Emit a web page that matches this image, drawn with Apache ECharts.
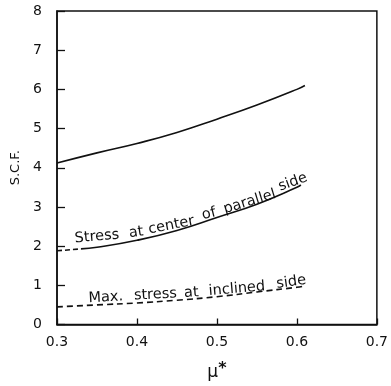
<!DOCTYPE html>
<html>
<head>
<meta charset="utf-8">
<script src="https://cdn.jsdelivr.net/npm/echarts@6/dist/echarts.min.js"></script>
<style>
  html, body { margin: 0; padding: 0; background: #fff; }
  #chart { width: 391px; height: 386px; }
</style>
</head>
<body>
<div id="chart"></div>
<script>
// tick labels
const xTicks = [0.3, 0.4, 0.5, 0.6, 0.7]
const yTicks = [0, 1, 2, 3, 4, 5, 6, 7, 8]

// upper solid curve (no label)
const muTop = [0.3, 0.35, 0.4, 0.45, 0.5, 0.55, 0.6, 0.61]
const scfTop = [4.12, 4.38, 4.62, 4.9, 5.24, 5.6, 6.0, 6.1]

// stress at center of parallel side
const muMid = [0.3, 0.33, 0.35, 0.4, 0.45, 0.5, 0.55, 0.6, 0.605]
const scfMid = [1.88, 1.93, 1.97, 2.15, 2.4, 2.73, 3.07, 3.5, 3.56]

// max. stress at inclined side
const muLow = [0.3, 0.35, 0.4, 0.45, 0.5, 0.55, 0.6, 0.61]
const scfLow = [0.45, 0.5, 0.55, 0.62, 0.71, 0.83, 0.95, 0.98]

const zip = (xs, ys) => xs.map((x, i) => [x, ys[i]])

// hand lettering along the curves: word, mu, scf, rotation (deg)
const words = [
  ['Stress', 0.35, 2.24, 5],
  ['at', 0.399, 2.35, 8],
  ['center', 0.443, 2.53, 11],
  ['of', 0.49, 2.82, 14],
  ['parallel', 0.541, 3.13, 17],
  ['side', 0.595, 3.63, 20],
  ['Max.', 0.361, 0.69, 3],
  ['stress', 0.423, 0.76, 3],
  ['at', 0.468, 0.81, 4],
  ['inclined', 0.525, 0.91, 5],
  ['side', 0.593, 1.08, 8]
]

const ink = '#111'
const font = 'DejaVu Sans'
const lineStyle = (type) => ({ color: ink, width: 1.6, type: type })

let chart = echarts.init(document.getElementById('chart'))
chart.setOption({
  animation: false,
  grid: {
    left: 57,
    right: 12,
    top: 11,
    bottom: 53,
    show: true,
    borderColor: ink,
    borderWidth: 1.5
  },
  xAxis: {
    type: 'value',
    min: xTicks[0],
    max: xTicks[xTicks.length - 1],
    interval: 0.1,
    name: '{m|μ}{s|*}',
    nameLocation: 'middle',
    nameGap: 36,
    nameTextStyle: {
      rich: {
        m: { fontFamily: font, fontSize: 17, color: ink },
        s: { fontFamily: font, fontSize: 16, fontWeight: 'bold', color: ink, verticalAlign: 'top', padding: [0, 0, 8, 0] }
      }
    },
    axisLine: { lineStyle: { color: ink, width: 1.5 } },
    axisTick: { inside: true, length: 6, lineStyle: { color: ink, width: 1.3 } },
    axisLabel: {
      color: ink,
      fontFamily: font,
      fontSize: 14,
      margin: 11,
      formatter: (v) => v.toFixed(1)
    },
    splitLine: { show: false }
  },
  yAxis: {
    type: 'value',
    min: yTicks[0],
    max: yTicks[yTicks.length - 1],
    interval: 1,
    name: 'S.C.F.',
    nameLocation: 'middle',
    nameGap: 33,
    nameTextStyle: { color: ink, fontFamily: font, fontSize: 13 },
    axisLine: { lineStyle: { color: ink, width: 1.5 } },
    axisTick: { inside: true, length: 8, lineStyle: { color: ink, width: 1.3 } },
    axisLabel: { color: ink, fontFamily: font, fontSize: 14, margin: 15 },
    splitLine: { show: false }
  },
  series: [
    {
      type: 'line',
      data: zip(muTop, scfTop),
      smooth: true,
      symbol: 'none',
      lineStyle: lineStyle('solid')
    },
    {
      type: 'line',
      data: zip(muMid.slice(0, 2), scfMid.slice(0, 2)),
      symbol: 'none',
      lineStyle: lineStyle([5, 3])
    },
    {
      type: 'line',
      data: zip(muMid.slice(1), scfMid.slice(1)),
      smooth: true,
      symbol: 'none',
      lineStyle: lineStyle('solid')
    },
    {
      type: 'line',
      data: zip(muLow, scfLow),
      smooth: true,
      symbol: 'none',
      lineStyle: lineStyle([6, 4])
    }
  ]
})

// place the lettering from data coordinates
chart.setOption({
  graphic: words.map((w) => {
    const p = chart.convertToPixel({ gridIndex: 0 }, [w[1], w[2]])
    return {
      type: 'text',
      x: p[0],
      y: p[1],
      rotation: (w[3] * Math.PI) / 180,
      style: {
        text: w[0],
        fill: ink,
        font: '14.5px "DejaVu Sans"',
        textAlign: 'center',
        textVerticalAlign: 'middle'
      }
    }
  })
})
</script>
</body>
</html>
